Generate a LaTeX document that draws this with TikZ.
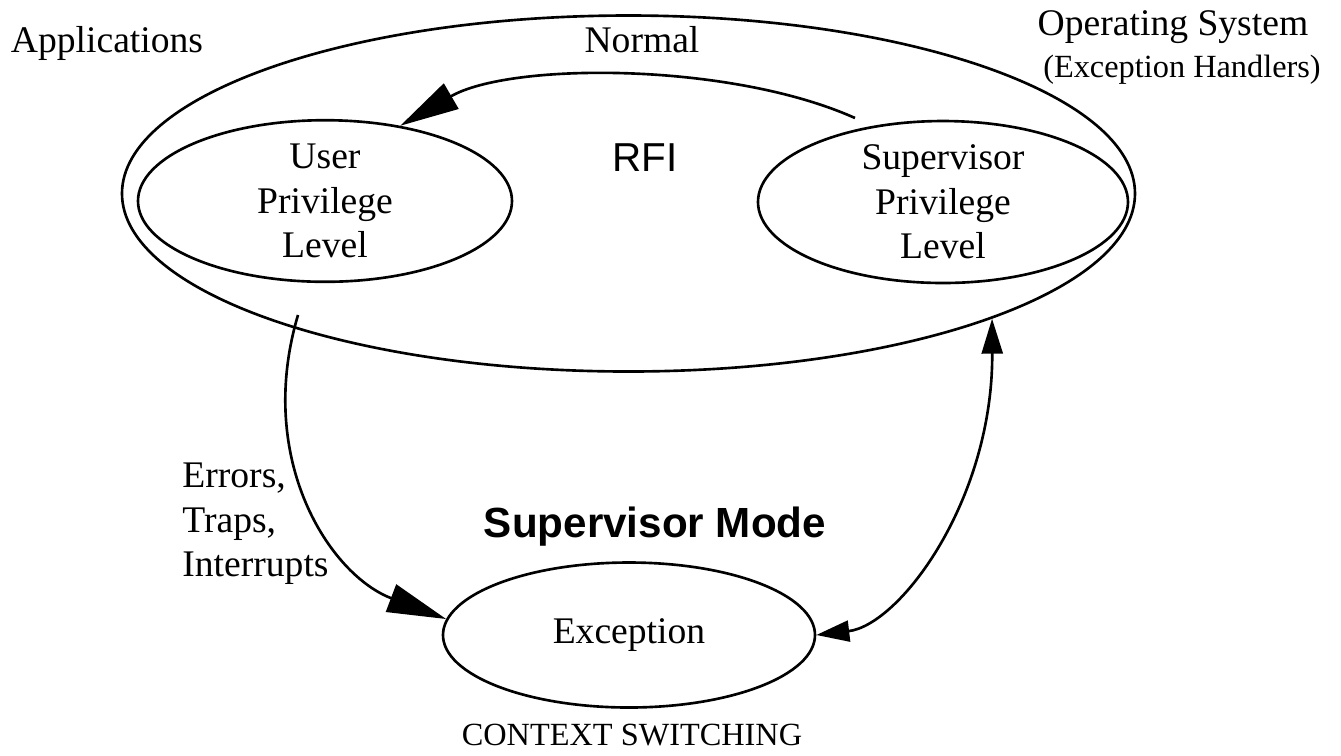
\documentclass[tikz,border=0pt]{standalone}
\usepackage{fontspec}
\setmainfont{Liberation Serif}
\setsansfont{Liberation Sans}
\usetikzlibrary{shapes.geometric, arrows.meta, positioning}

\begin{document}
\begin{tikzpicture}[
    state/.style={draw, ellipse, line width=0.75pt, inner sep=0pt, align=center, font=\fontsize{10.7}{12.7}\selectfont},
    txt/.style={font=\fontsize{10.7}{12.7}\selectfont},
    small/.style={font=\fontsize{9.2}{11}\selectfont},
    flow/.style={line width=0.75pt, -{Triangle[length=0.59cm, width=0.29cm]}},
    both/.style={line width=0.75pt, {Triangle[length=0.35cm, width=0.21cm]}-{Triangle[length=0.33cm, width=0.21cm]}}
]
\useasboundingbox (0,0) rectangle (13.41,-7.55);

% Outer ellipse (normal mode)
\node[state, minimum width=10.13cm, minimum height=3.56cm] (normal) at (6.285,-1.935) {};

% Privilege levels
\node[state, minimum width=3.74cm, minimum height=1.51cm] (user) at (3.25,-2.01) {User\\Privilege\\Level};
\node[state, minimum width=3.70cm, minimum height=1.51cm] (sup) at (9.43,-2.02) {Supervisor\\Privilege\\Level};

% Exception state
\node[state, minimum width=3.72cm, minimum height=1.45cm] (exc) at (6.29,-6.35) {Exception};

% Labels
\node[txt, anchor=base] (apps) at (1.07,-0.52) {Applications};
\node[txt, anchor=base] (normtxt) at (6.42,-0.52) {Normal};
\node[txt, anchor=base] (os) at (11.73,-0.35) {Operating System};
\node[small, anchor=base] (handlers) at (11.82,-0.77) {(Exception Handlers)};
\node[font=\sffamily\fontsize{11.5}{13}\selectfont] (rfi) at (6.45,-1.58) {RFI};
\node[txt, anchor=west, align=left] (errs) at (1.70,-5.24) {Errors,\\Traps,\\Interrupts};
\node[font=\sffamily\bfseries\fontsize{12}{14}\selectfont, anchor=base] (smode) at (6.55,-5.37) {Supervisor Mode};
\node[small, anchor=base] (ctx) at (6.32,-7.45) {CONTEXT SWITCHING};

% Connectors
\coordinate (rfistart) at (8.55,-1.18);
\coordinate (errstart) at (2.98,-3.15);
\draw[flow] (rfistart) .. controls (7.3,-0.62) and (5.1,-0.62) .. (user.45);
\draw[flow] (errstart) .. controls (2.55,-4.6) and (3.3,-5.75) .. (exc.175);
\draw[both] (normal.-19) .. controls (9.93,-5.0) and (9.0,-6.25) .. (exc.0);

\end{tikzpicture}
\end{document}
